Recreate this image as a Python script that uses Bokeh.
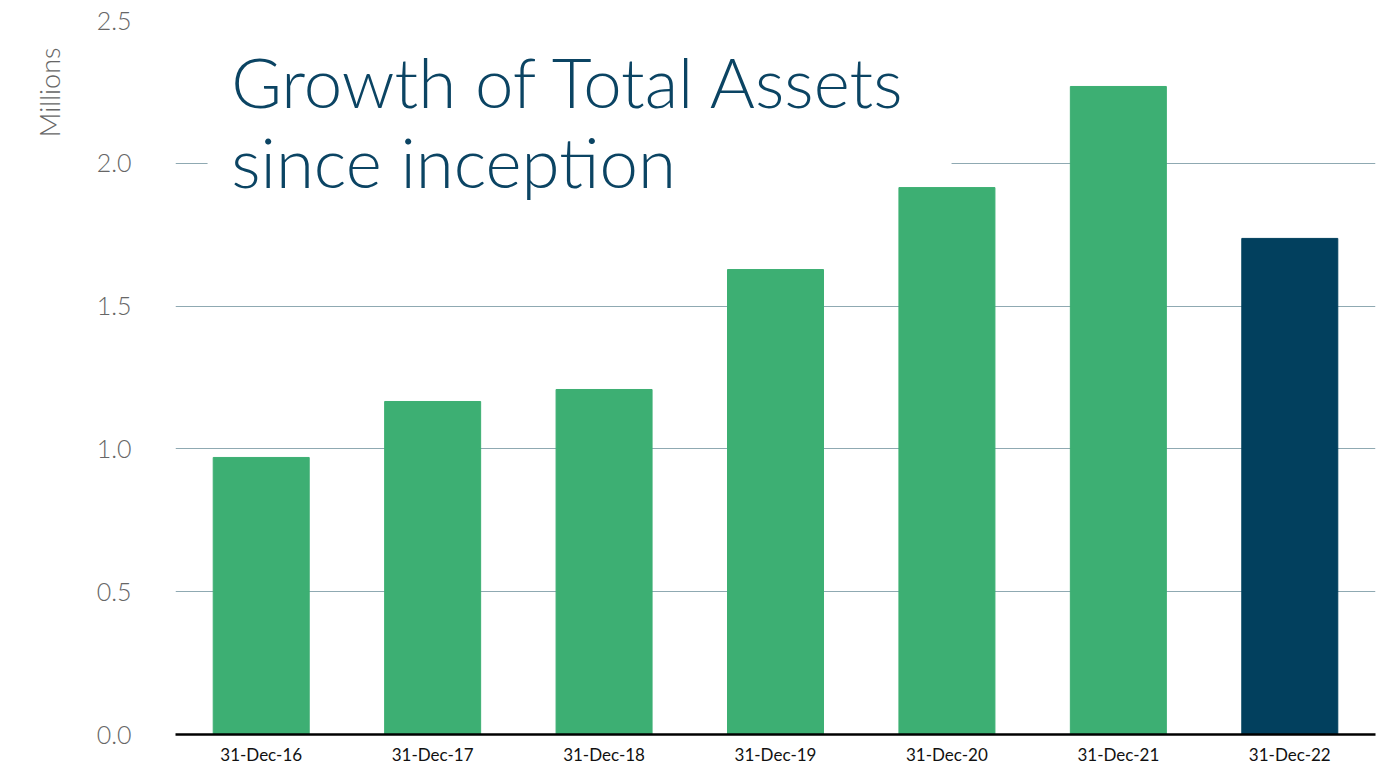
import math
from bokeh.plotting import figure
from bokeh.models import ColumnDataSource, Label, BoxAnnotation, FixedTicker, CustomJSTickFormatter, Title
from bokeh.embed import file_html
from bokeh.resources import INLINE

dates = ["31-Dec-16", "31-Dec-17", "31-Dec-18", "31-Dec-19", "31-Dec-20", "31-Dec-21", "31-Dec-22"]
assets_millions = [0.970, 1.166, 1.208, 1.628, 1.915, 2.269, 1.737]
bar_colors = ["#3daf73"] * 6 + ["#02405e"]
y_ticks = [0.0, 0.5, 1.0, 1.5, 2.0, 2.5]

FONT = "Lato"
TITLE_FONT = "Lato Light"
TITLE_COLOR = "#0b4463"

src = ColumnDataSource(dict(x=dates, top=assets_millions, color=bar_colors))

p = figure(x_range=dates, y_range=(0, 2.5), width=1388, height=768,
           output_backend="svg", toolbar_location=None,
           min_border_left=175, min_border_right=13, min_border_top=20, min_border_bottom=34)
p.outline_line_color = None
p.background_fill_color = "white"
p.border_fill_color = "white"

p.vbar(x="x", top="top", width=0.56, color="color", source=src)

p.xgrid.grid_line_color = None
p.ygrid.grid_line_color = "#8fa9b2"
p.ygrid.grid_line_width = 1.2
p.ygrid.ticker = FixedTicker(ticks=y_ticks)

p.yaxis.ticker = FixedTicker(ticks=y_ticks)
p.yaxis.axis_line_color = None
p.yaxis.major_tick_line_color = None
p.yaxis.minor_tick_line_color = None
p.yaxis.major_label_text_font = TITLE_FONT
p.yaxis.major_label_text_font_size = "25px"
p.yaxis.major_label_text_color = "#666666"
p.yaxis.major_label_standoff = 38
p.yaxis.formatter = CustomJSTickFormatter(code="return tick.toFixed(1);")

p.xaxis.axis_line_color = "black"
p.xaxis.axis_line_width = 2.5
p.xaxis.major_tick_line_color = None
p.xaxis.minor_tick_line_color = None
p.xaxis.major_label_text_font = FONT
p.xaxis.major_label_text_font_size = "17px"
p.xaxis.major_label_text_color = "#111111"
p.xaxis.major_label_standoff = 3

# white panel behind the title
p.add_layout(BoxAnnotation(left=0.187, right=4.527, bottom=1.96, top=2.42,
                           fill_color="white", fill_alpha=1.0, line_color=None))

p.add_layout(Label(x=0.325, y=2.285, text="Growth of Total Assets",
                   text_font=TITLE_FONT, text_font_size="69px", text_color=TITLE_COLOR,
                   text_baseline="alphabetic", text_align="left"))
p.add_layout(Label(x=0.325, y=2.005, text="since inception",
                   text_font=TITLE_FONT, text_font_size="69px", text_color=TITLE_COLOR,
                   text_baseline="alphabetic", text_align="left"))

p.add_layout(Title(text="Millions", align="right", offset=27, standoff=56,
                   text_font=TITLE_FONT, text_font_size="27px", text_color="#666666",
                   text_font_style="normal"), "left")

open("out.html", "w").write(file_html(p, INLINE))
